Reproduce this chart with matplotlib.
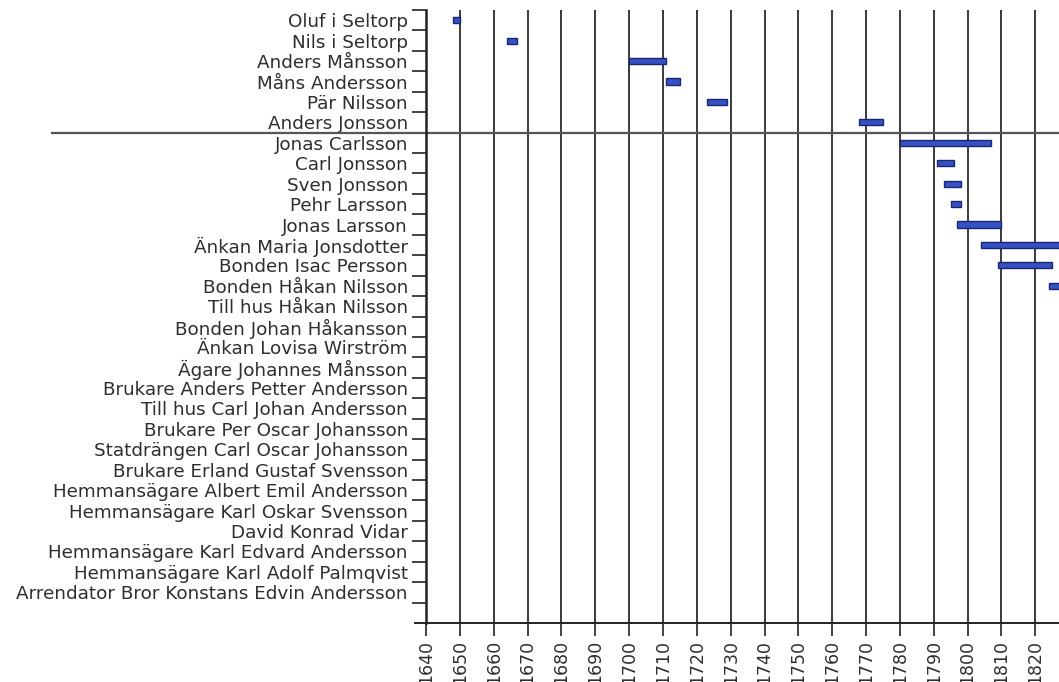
import numpy as np
import matplotlib.pyplot as plt

# owners of the farm, top to bottom
names = [
    "Oluf i Seltorp", "Nils i Seltorp", "Anders Månsson", "Måns Andersson",
    "Pär Nilsson", "Anders Jonsson", "Jonas Carlsson", "Carl Jonsson",
    "Sven Jonsson", "Pehr Larsson", "Jonas Larsson", "Änkan Maria Jonsdotter",
    "Bonden Isac Persson", "Bonden Håkan Nilsson", "Till hus Håkan Nilsson",
    "Bonden Johan Håkansson", "Änkan Lovisa Wirström", "Ägare Johannes Månsson",
    "Brukare Anders Petter Andersson", "Till hus Carl Johan Andersson",
    "Brukare Per Oscar Johansson", "Statdrängen Carl Oscar Johansson",
    "Brukare Erland Gustaf Svensson", "Hemmansägare Albert Emil Andersson",
    "Hemmansägare Karl Oskar Svensson", "David Konrad Vidar",
    "Hemmansägare Karl Edvard Andersson", "Hemmansägare Karl Adolf Palmqvist",
    "Arrendator Bror Konstans Edvin Andersson",
]

# years held (only the part visible in the picture)
start_year = [1648, 1664, 1700, 1711, 1723, 1768, 1780, 1791, 1793, 1795,
              1797, 1804, 1809, 1824]
end_year = [1650, 1667, 1711, 1715, 1729, 1775, 1807, 1796, 1798, 1798,
            1810, 1832, 1825, 1840]

year_ticks = list(range(1640, 1821, 10))
separator_after = 5  # line drawn below "Anders Jonsson"

W, H = 1059, 682
fig = plt.figure(figsize=(W / 100, H / 100), dpi=100)
ax = fig.add_axes([426 / W, 1 - 623 / H, (W - 426) / W, (623 - 10) / H])

text_col = "#2e2e2e"
font = "DejaVu Sans"

rows = np.arange(len(start_year))
widths = np.array(end_year) - np.array(start_year)
ax.barh(rows, widths, left=start_year, height=0.3,
        color="#3452c4", edgecolor="#1b2670", linewidth=1.0, zorder=3)

ax.set_xlim(1640, 1827)
ax.set_ylim(29.5, -0.5)

# vertical grid every decade
for yr in year_ticks[1:]:
    ax.axvline(yr, color="#3a3a3a", lw=1.4, zorder=1)

# y axis: labels centred in rows, ticks between rows
ax.set_yticks(np.arange(len(names)))
ax.set_yticklabels(names, fontsize=13.2, family=font, color=text_col)
ax.set_yticks(np.arange(len(names) + 1) - 0.5, minor=True)
ax.tick_params(axis="y", which="major", length=0, pad=13)
ax.tick_params(axis="y", which="minor", length=10, width=1.2, color="#222222")

ax.set_xticks(year_ticks)
ax.set_xticklabels([str(y) for y in year_ticks], rotation=90, fontsize=12.5,
                   family=font, color=text_col, va="top")
ax.tick_params(axis="x", length=9, width=1.2, color="#222222", pad=3)

for s in ["top", "right", "bottom"]:
    ax.spines[s].set_visible(False)
ax.spines["left"].set_linewidth(1.8)
ax.spines["left"].set_color("#222222")

# x axis line reaching a little past the y axis
ax.axhline(29.5, xmin=-0.018, xmax=1, color="#222222", lw=1.4, clip_on=False)

# separator line across the labels
ax.axhline(separator_after + 0.5, xmin=(52 - 426) / (W - 426), xmax=1,
           color="#555555", lw=1.6, clip_on=False, zorder=2)

fig.savefig("out.png", dpi=100)
